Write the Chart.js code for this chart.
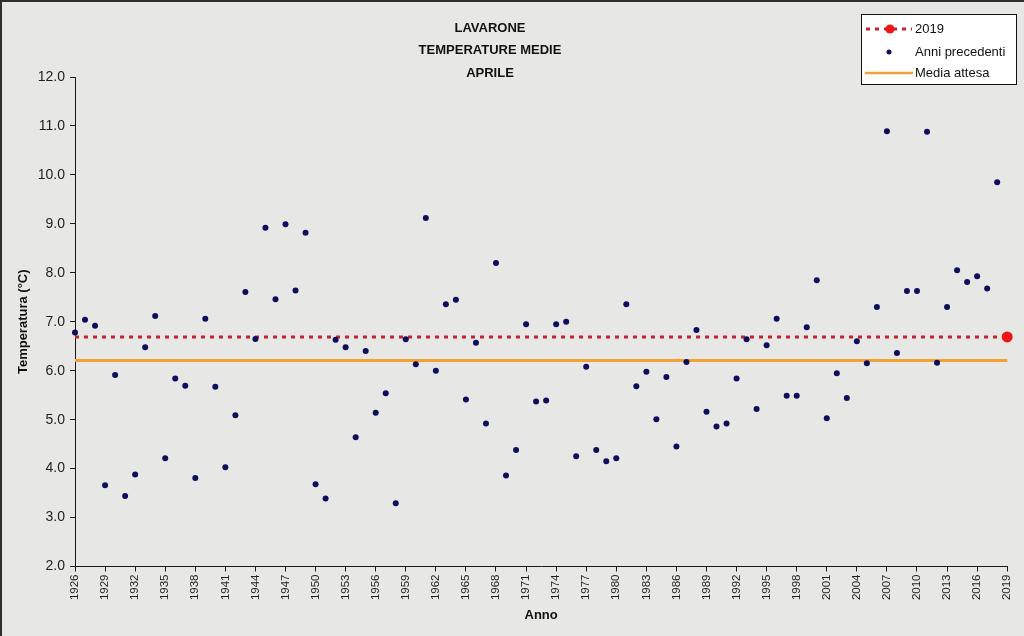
<!DOCTYPE html>
<html>
<head>
<meta charset="utf-8">
<title>Lavarone - temperature medie aprile</title>
<script src="https://cdn.jsdelivr.net/npm/chart.js@4.4.1/dist/chart.umd.min.js"></script>
<style>
  html, body { margin: 0; padding: 0; background: #e7e7e5; }
  #wrap { position: relative; width: 1024px; height: 636px; overflow: hidden; }
  #wrap:after {
    content: ''; position: absolute; left: 0; top: 0; right: 0; bottom: 0;
    border-top: 2px solid #2e2e2e; border-left: 2px solid #2e2e2e;
    pointer-events: none;
  }
  canvas { display: block; }
</style>
</head>
<body>
<div id="wrap"><canvas id="grafico" width="1024" height="636"></canvas></div>
<script>
// dati
var anni = [
  1926, 1927, 1928, 1929, 1930, 1931, 1932, 1933, 1934, 1935,
  1936, 1937, 1938, 1939, 1940, 1941, 1942, 1943, 1944, 1945,
  1946, 1947, 1948, 1949, 1950, 1951, 1952, 1953, 1954, 1955,
  1956, 1957, 1958, 1959, 1960, 1961, 1962, 1963, 1964, 1965,
  1966, 1967, 1968, 1969, 1970, 1971, 1972, 1973, 1974, 1975,
  1976, 1977, 1978, 1979, 1980, 1981, 1982, 1983, 1984, 1985,
  1986, 1987, 1988, 1989, 1990, 1991, 1992, 1993, 1994, 1995,
  1996, 1997, 1998, 1999, 2000, 2001, 2002, 2003, 2004, 2005,
  2006, 2007, 2008, 2009, 2010, 2011, 2012, 2013, 2014, 2015,
  2016, 2017, 2018
];
var temperature = [
  6.78, 7.04, 6.92, 3.66, 5.91, 3.44, 3.88, 6.48, 7.12, 4.21,
  5.84, 5.69, 3.81, 7.06, 5.67, 4.03, 5.09, 7.61, 6.65, 8.92,
  7.46, 8.99, 7.64, 8.82, 3.68, 3.39, 6.63, 6.48, 4.64, 6.40,
  5.14, 5.54, 3.29, 6.64, 6.13, 9.12, 6.00, 7.36, 7.45, 5.41,
  6.57, 4.92, 8.20, 3.86, 4.38, 6.95, 5.37, 5.39, 6.95, 7.00,
  4.25, 6.08, 4.38, 4.15, 4.21, 7.36, 5.68, 5.98, 5.01, 5.87,
  4.45, 6.18, 6.83, 5.16, 4.86, 4.92, 5.84, 6.64, 5.22, 6.52,
  7.06, 5.49, 5.49, 6.89, 7.85, 5.03, 5.95, 5.44, 6.60, 6.15,
  7.30, 10.89, 6.36, 7.63, 7.63, 10.88, 6.16, 7.30, 8.05, 7.81,
  7.93, 7.68, 9.85
];
var annoCorrente = [2019];
var valoreCorrente = [6.69];
var mediaAttesa = [6.21];
var estremiAnni = [1926, 2019];
var titoloRighe = ['LAVARONE', 'TEMPERATURE MEDIE', 'APRILE'];
var nomiSerie = ['2019', 'Anni precedenti', 'Media attesa'];

var FONT = '"Liberation Sans", Arial, sans-serif';
var colori = {
  rosso: '#c4222c',
  puntoRosso: '#f01414',
  blu: '#0e0e5c',
  arancio: '#f2a234',
  testo: '#1e1e1e'
};

var puntiPrecedenti = anni.map(function (a, i) {
  return { x: a, y: temperature[i] };
});
var lineaCorrente = estremiAnni.map(function (a) {
  return { x: a, y: valoreCorrente[0] };
});
var lineaMedia = estremiAnni.map(function (a) {
  return { x: a, y: mediaAttesa[0] };
});

// titolo su tre righe, spostato a sinistra come nell'originale
var titoloPlugin = {
  id: 'titoloLavarone',
  afterDraw: function (chart) {
    var ctx = chart.ctx;
    ctx.save();
    ctx.fillStyle = '#111';
    ctx.font = 'bold 13px ' + FONT;
    ctx.textAlign = 'center';
    ctx.textBaseline = 'middle';
    for (var i = 0; i < titoloRighe.length; i++) {
      ctx.fillText(titoloRighe[i], 490, 28 + i * 22.5);
    }
    ctx.restore();
  }
};

// legenda in riquadro bianco in alto a destra
var legendaPlugin = {
  id: 'legendaLavarone',
  afterDraw: function (chart) {
    var ctx = chart.ctx;
    var x0 = 861.5, y0 = 14.5, w = 155, h = 70;
    ctx.save();
    ctx.fillStyle = '#ffffff';
    ctx.fillRect(x0, y0, w, h);
    ctx.strokeStyle = '#111';
    ctx.lineWidth = 1;
    ctx.strokeRect(x0, y0, w, h);

    var righe = [29, 52, 73];
    // 2019
    ctx.strokeStyle = colori.rosso;
    ctx.lineWidth = 3;
    ctx.setLineDash([4, 5]);
    ctx.beginPath();
    ctx.moveTo(866, righe[0]);
    ctx.lineTo(912, righe[0]);
    ctx.stroke();
    ctx.setLineDash([]);
    ctx.fillStyle = colori.puntoRosso;
    ctx.beginPath();
    ctx.arc(890, righe[0], 4.5, 0, Math.PI * 2);
    ctx.fill();
    // anni precedenti
    ctx.fillStyle = colori.blu;
    ctx.beginPath();
    ctx.arc(889, righe[1], 2.5, 0, Math.PI * 2);
    ctx.fill();
    // media attesa
    ctx.strokeStyle = colori.arancio;
    ctx.lineWidth = 2.5;
    ctx.beginPath();
    ctx.moveTo(865, righe[2]);
    ctx.lineTo(913, righe[2]);
    ctx.stroke();

    ctx.fillStyle = '#111';
    ctx.font = '13px ' + FONT;
    ctx.textAlign = 'left';
    ctx.textBaseline = 'middle';
    for (var i = 0; i < nomiSerie.length; i++) {
      ctx.fillText(nomiSerie[i], 915, righe[i]);
    }
    ctx.restore();
  }
};

var ctx = document.getElementById('grafico').getContext('2d');
var grafico = new Chart(ctx, {
  type: 'scatter',
  data: {
    datasets: [{
      label: nomiSerie[1],
      data: puntiPrecedenti,
      backgroundColor: colori.blu,
      borderColor: colori.blu,
      pointRadius: 3,
      borderWidth: 0,
      order: 0,
      clip: false
    }, {
      label: nomiSerie[0],
      data: lineaCorrente,
      showLine: true,
      borderColor: colori.rosso,
      borderWidth: 3,
      borderDash: [4, 5],
      pointRadius: [0, 5.5],
      pointBackgroundColor: colori.puntoRosso,
      pointBorderWidth: 0,
      order: 1,
      clip: false
    }, {
      label: nomiSerie[2],
      data: lineaMedia,
      showLine: true,
      borderColor: colori.arancio,
      borderWidth: 3,
      pointRadius: 0,
      order: 2,
      clip: false
    }]
  },
  options: {
    responsive: false,
    animation: false,
    events: [],
    layout: { padding: { top: 77, right: 13, left: 0, bottom: 0 } },
    plugins: {
      legend: { display: false },
      title: { display: false },
      tooltip: { enabled: false }
    },
    scales: {
      x: {
        type: 'linear',
        min: estremiAnni[0],
        max: estremiAnni[1],
        afterFit: function (s) { s.height = 69.5; },
        border: { color: '#1a1a1a', width: 1 },
        grid: { drawOnChartArea: false, tickLength: 5, color: '#1a1a1a' },
        ticks: {
          stepSize: 3,
          autoSkip: false,
          minRotation: 90,
          maxRotation: 90,
          padding: 3,
          color: colori.testo,
          font: { family: FONT, size: 11.5 },
          callback: function (v) { return String(v); }
        },
        title: {
          display: true,
          text: 'Anno',
          color: '#111',
          font: { family: FONT, size: 13, weight: 'bold' },
          padding: { top: 0, bottom: 13 }
        }
      },
      y: {
        min: 2,
        max: 12,
        afterFit: function (s) { s.width = 75; },
        border: { color: '#1a1a1a', width: 1 },
        grid: { drawOnChartArea: false, tickLength: 5, color: '#1a1a1a' },
        ticks: {
          stepSize: 1,
          padding: 5,
          color: colori.testo,
          font: { family: FONT, size: 14 },
          callback: function (v) { return v.toFixed(1); }
        },
        title: {
          display: true,
          text: 'Temperatura (°C)',
          color: '#111',
          font: { family: FONT, size: 13, weight: 'bold' },
          padding: { top: 16, bottom: 0 }
        }
      }
    }
  },
  plugins: [titoloPlugin, legendaPlugin]
});
</script>
</body>
</html>
